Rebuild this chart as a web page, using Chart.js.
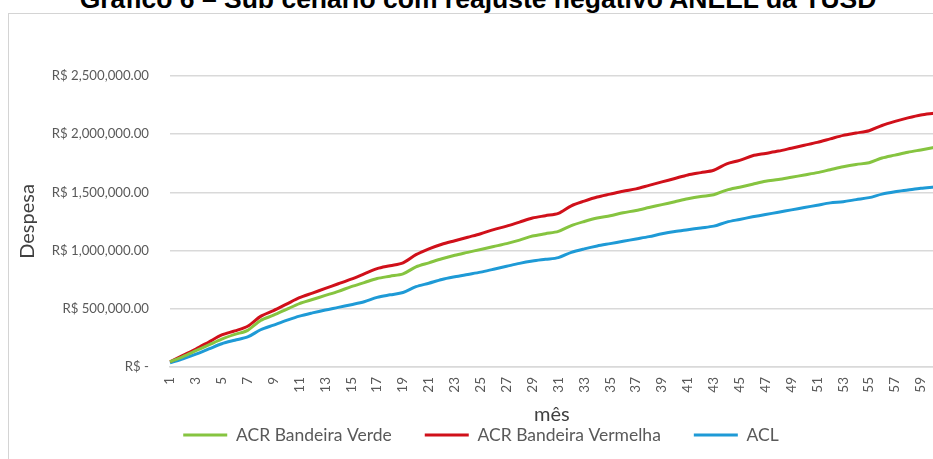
<!DOCTYPE html>
<html>
<head>
<meta charset="utf-8">
<script src="https://cdn.jsdelivr.net/npm/chart.js@4.4.1/dist/chart.umd.min.js"></script>
<style>
  html, body { margin: 0; padding: 0; background: #fff; overflow: hidden; }
  body { width: 933px; height: 459px; position: relative; }
  #titulo {
    position: absolute; left: 0; width: 956px; top: -16px; line-height: 30px;
    text-align: center; font: bold 26.5px "Liberation Sans", Arial, sans-serif; color: #000;
    white-space: nowrap;
  }
  #moldura {
    position: absolute; left: 8px; top: 13px; width: 960px; height: 470px;
    border: 1px solid #d4d4d4; box-sizing: border-box;
  }
  #caixa { position: absolute; left: 0; top: 0; width: 960px; height: 470px; }
</style>
</head>
<body>
<div id="titulo">Gráfico 6 – Sub cenário com reajuste negativo ANEEL da TUSD</div>
<div id="moldura"></div>
<div id="caixa"><canvas id="grafico"></canvas></div>
<script>
const meses = [];
for (let m = 1; m <= 60; m++) meses.push(String(m));

const acrVerde = [
  45, 90, 140, 190, 240, 280, 315, 400, 445, 495,
  545, 580, 615, 650, 690, 725, 760, 780, 800, 860,
  895, 930, 960, 985, 1010, 1035, 1060, 1090, 1125, 1145,
  1165, 1215, 1250, 1280, 1300, 1325, 1345, 1370, 1395, 1420,
  1445, 1465, 1480, 1520, 1545, 1570, 1595, 1610, 1630, 1650,
  1670, 1695, 1720, 1740, 1755, 1795, 1820, 1845, 1865, 1885
].map(v => v * 1000);

const acrVermelha = [
  45, 100, 155, 215, 275, 310, 350, 435, 485, 540,
  595, 635, 675, 715, 755, 800, 845, 870, 895, 965,
  1015, 1055, 1085, 1115, 1145, 1180, 1210, 1245, 1280, 1300,
  1320, 1385, 1425, 1460, 1485, 1510, 1530, 1560, 1590, 1620,
  1650, 1670, 1690, 1745, 1775, 1815, 1835, 1855, 1880, 1905,
  1930, 1960, 1990, 2010, 2030, 2075, 2110, 2140, 2165, 2180
].map(v => v * 1000);

const acl = [
  35, 70, 110, 155, 200, 230, 258, 320, 360, 400,
  437, 465, 490, 512, 535, 560, 598, 620, 640, 690,
  720, 752, 775, 795, 815, 840, 865, 890, 910, 925,
  940, 985, 1015, 1040, 1060, 1080, 1100, 1120, 1145, 1165,
  1180, 1195, 1210, 1245, 1268, 1290, 1310, 1330, 1350, 1370,
  1390, 1410, 1420, 1438, 1455, 1485, 1505, 1520, 1535, 1546
].map(v => v * 1000);

const fonte = "Lato, 'Open Sans', sans-serif";
const cinza = "#595959";

function reais(v) {
  if (v === 0) return "R$ -";
  return "R$ " + v.toLocaleString("en-US", { minimumFractionDigits: 2, maximumFractionDigits: 2 });
}

function serie(nome, dados, cor) {
  return {
    label: nome,
    data: dados,
    borderColor: cor,
    backgroundColor: cor,
    borderWidth: 3,
    pointRadius: 0,
    tension: 0.3,
    fill: false,
  };
}

new Chart(document.getElementById("grafico"), {
  type: "line",
  data: {
    labels: meses,
    datasets: [
      serie("ACR Bandeira Verde", acrVerde, "#86c440"),
      serie("ACR Bandeira Vermelha", acrVermelha, "#d0101a"),
      serie("ACL", acl, "#1e9ad6"),
    ],
  },
  options: {
    responsive: true,
    maintainAspectRatio: false,
    animation: false,
    // padding esquerdo maior so para centrar a legenda como no original
    layout: { padding: { left: 27, top: 76, right: 25, bottom: 16.25 } },
    plugins: {
      legend: {
        position: "bottom",
        labels: {
          usePointStyle: true,
          pointStyle: "line",
          pointStyleWidth: 44,
          padding: 33,
          color: cinza,
          font: { size: 17.5, family: fonte },
        },
      },
      tooltip: { enabled: false },
    },
    scales: {
      x: {
        offset: false,
        grid: { display: false, drawTicks: false },
        border: { color: "#d9d9d9", width: 1.5 },
        ticks: {
          autoSkip: false,
          minRotation: 90,
          maxRotation: 90,
          padding: 10,
          color: cinza,
          font: { size: 13.5, family: fonte },
          callback: function (v, i) { return i % 2 === 0 ? meses[i] : ""; },
        },
        title: {
          display: true, text: "mês", color: "#404040",
          padding: { top: 0, bottom: -33.75 },
          font: { size: 20, family: fonte },
        },
        // altura fixa: o titulo "mês" desce com padding negativo
        afterFit: function (s) { s.height = 26.25; },
      },
      y: {
        min: 0,
        max: 2500000,
        grid: { color: "#d9d9d9", lineWidth: 1.5, drawTicks: false },
        border: { display: false },
        ticks: {
          stepSize: 500000,
          padding: 21,
          color: cinza,
          font: { size: 13.2, family: fonte },
          callback: function (v) { return reais(v); },
        },
        title: {
          display: true, text: "Despesa", color: "#404040",
          padding: { top: -11, bottom: 0 },
          font: { size: 20, family: fonte },
        },
        afterFit: function (s) { s.width = 143; },
      },
    },
  },
});
</script>
</body>
</html>
